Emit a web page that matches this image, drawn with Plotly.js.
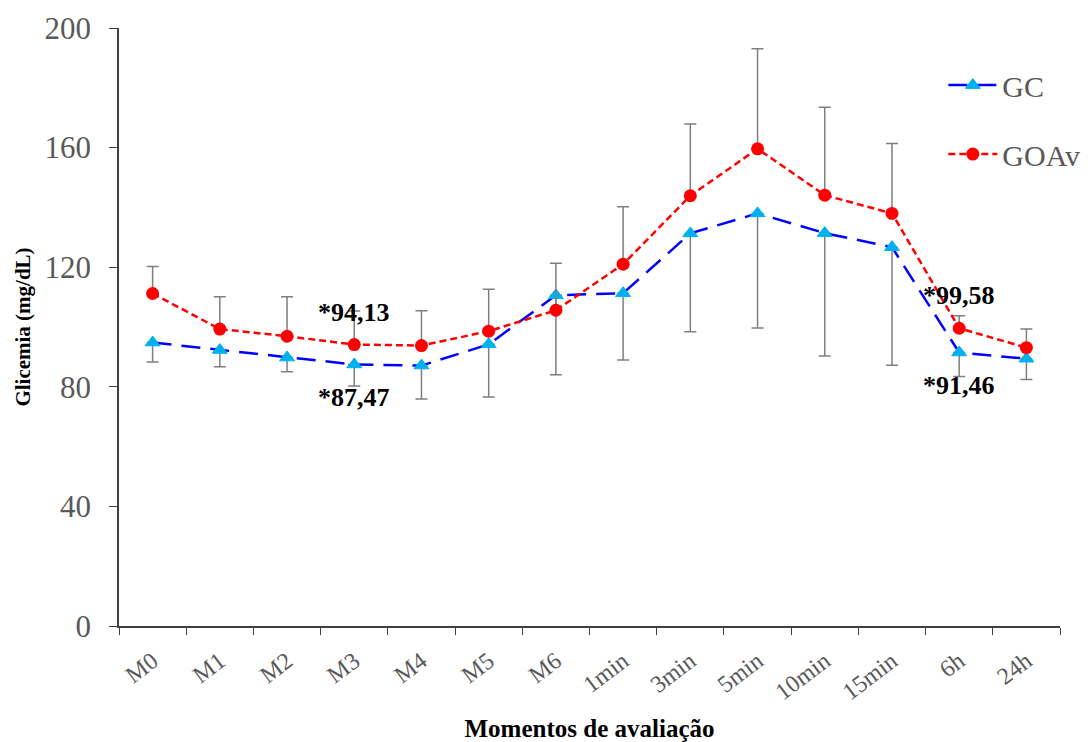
<!DOCTYPE html>
<html>
<head>
<meta charset="utf-8">
<script src="https://cdn.plot.ly/plotly-3.0.1.min.js"></script>
<style>html,body{margin:0;padding:0;background:#fff;}#chart{width:1091px;height:742px;}</style>
</head>
<body>
<div id="chart"></div>
<script>
const categories = ["M0","M1","M2","M3","M4","M5","M6","1min","3min","5min","10min","15min","6h","24h"];
const gcValues   = [94.8, 92.3, 89.8, 87.47, 87.1, 94.2, 110.6, 111.3, 131.3, 138.0, 131.4, 126.7, 91.46, 89.4];
const gcSdMinus  = [6.5, 5.6, 4.8, 7.2, 11.2, 17.6, 26.6, 22.3, 32.9, 38.3, 41.1, 39.5, 8.0, 7.0];
const goavValues = [111.2, 99.3, 96.9, 94.13, 93.8, 98.6, 105.6, 121.0, 143.9, 159.6, 144.1, 138.0, 99.58, 93.1];
const goavSdPlus = [9.0, 10.8, 13.2, 11.2, 11.6, 14.0, 15.7, 19.2, 24.0, 33.5, 29.4, 23.4, 4.2, 6.2];
const labels = [
  {x: "M3", y: 104.7, text: "*94,13"},
  {x: "M3", y: 76.3, text: "*87,47"},
  {x: "6h", y: 110.4, text: "*99,58"},
  {x: "6h", y: 80.6, text: "*91,46"}
];

const zeros = categories.map(() => 0);
const serif = "Liberation Serif, Times New Roman, serif";

const traces = [
  {
    x: categories, y: gcValues, name: "GC", type: "scatter", mode: "lines+markers",
    legendgroup: "a",
    line: {color: "#0000FF", width: 2.5, dash: "19px,10px"},
    marker: {symbol: "triangle-up", size: 13, color: "#00B0F0", line: {color: "#00B0F0", width: 1}},
    error_y: {type: "data", symmetric: false, array: zeros, arrayminus: gcSdMinus,
              color: "#7F7F7F", thickness: 1.5, width: 6}
  },
  {
    x: categories, y: goavValues, name: "GOAv", type: "scatter", mode: "lines+markers",
    legendgroup: "b",
    line: {color: "#FF0000", width: 2.5, dash: "7px,4px"},
    marker: {symbol: "circle", size: 13, color: "#FF0000"},
    error_y: {type: "data", symmetric: false, array: goavSdPlus, arrayminus: zeros,
              color: "#7F7F7F", thickness: 1.5, width: 6}
  }
];

const layout = {
  width: 1091, height: 742,
  margin: {l: 119, r: 31, t: 28, b: 116, autoexpand: false},
  paper_bgcolor: "#fff", plot_bgcolor: "#fff",
  showlegend: true,
  legend: {x: 0.876, y: 0.948, xanchor: "left", yanchor: "top", itemwidth: 49,
           font: {family: serif, size: 30, color: "#595959"},
           traceorder: "grouped", tracegroupgap: 27, bgcolor: "rgba(0,0,0,0)"},
  xaxis: {
    type: "category", tickson: "boundaries", ticks: "outside", ticklen: 7, tickcolor: "#404040",
    showline: true, linecolor: "#404040", linewidth: 1.5, showgrid: false, zeroline: false,
    tickangle: -37, tickfont: {family: serif, size: 24, color: "#595959"}, ticklabelstandoff: 10,
    range: [-0.5, 13.5],
    title: {text: "<b>Momentos de avaliação</b>", font: {family: serif, size: 25, color: "#000"}, standoff: 16}
  },
  yaxis: {
    range: [0, 200], dtick: 40, ticks: "outside", ticklen: 8, tickcolor: "#404040",
    showline: true, linecolor: "#404040", linewidth: 1.5, showgrid: false, zeroline: false,
    tickfont: {family: serif, size: 31, color: "#595959"}, ticklabelstandoff: 12,
    title: {text: "<b>Glicemia (mg/dL)</b>", font: {family: serif, size: 21, color: "#000"}, standoff: 8}
  },
  annotations: labels.map(l => ({
    x: l.x, y: l.y, xref: "x", yref: "y", text: "<b>" + l.text + "</b>", showarrow: false,
    font: {family: serif, size: 26, color: "#000"}
  }))
};

Plotly.newPlot("chart", traces, layout, {displayModeBar: false, responsive: false});
</script>
</body>
</html>
